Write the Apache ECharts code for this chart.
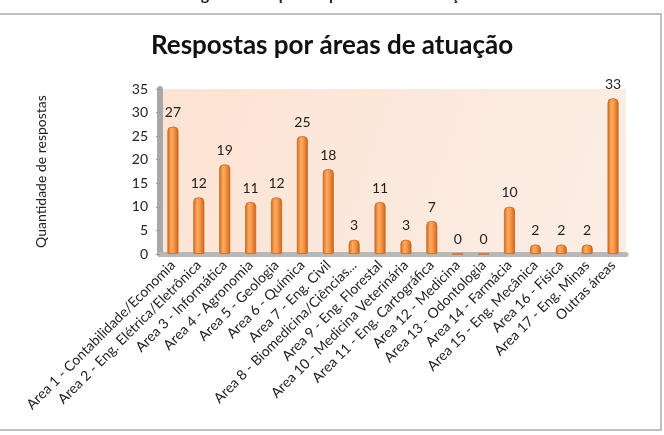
<!DOCTYPE html>
<html><head><meta charset="utf-8">
<script src="https://cdn.jsdelivr.net/npm/echarts@6/dist/echarts.min.js"></script>
<style>html,body{margin:0;padding:0;background:#fff}#c{width:664px;height:435px}</style>
</head><body><div id="c"></div>
<script>
const categories = [
  "Area 1 - Contabilidade/Economia",
  "Area 2 - Eng. Elétrica/Eletrônica",
  "Area 3 - Informática",
  "Area 4 - Agronomia",
  "Area 5 - Geologia",
  "Area 6 - Química",
  "Area 7 - Eng. Civil",
  "Area 8 - Biomedicina/Ciências...",
  "Area 9 - Eng. Florestal",
  "Area 10 - Medicina Veterinária",
  "Area 11 - Eng. Cartográfica",
  "Area 12 - Medicina",
  "Area 13 - Odontologia",
  "Area 14 - Farmácia",
  "Area 15 - Eng. Mecânica",
  "Area 16 - Física",
  "Area 17 - Eng. Minas",
  "Outras áreas"
];
const respostas = [27, 12, 19, 11, 12, 25, 18, 3, 11, 3, 7, 0, 0, 10, 2, 2, 2, 33];
const yTicks = [0, 5, 10, 15, 20, 25, 30, 35];
const chartTitle = "Respostas por áreas de atuação";
const figureCaption = "Figura 6: Respostas por áreas de atuação";
const yAxisTitle = "Quantidade de respostas";

const FONT = "Lato, 'Open Sans', sans-serif";
const chart = echarts.init(document.getElementById('c'), null, {renderer: 'canvas'});
chart.setOption({
  backgroundColor: '#fff',
  animation: false,
  title: {
    text: chartTitle, left: 'center', top: 28,
    textStyle: {fontFamily: FONT, fontSize: 26, fontWeight: 'bold', color: '#111'}
  },
  graphic: [
    {type: 'rect', shape: {x: -2, y: 14, width: 663, height: 416},
     style: {fill: 'none', stroke: '#aaa', lineWidth: 1.5}, silent: true, z: -1},
    {type: 'text', left: 'center', top: -13,
     style: {text: figureCaption, font: "bold 16px " + FONT, fill: '#222'}}
  ],
  grid: {
    left: 160, right: 38, top: 89, bottom: 181,
    show: true, borderWidth: 0,
    backgroundColor: new echarts.graphic.LinearGradient(0, 0, 1, 1, [
      {offset: 0, color: '#fde3d3'}, {offset: 1, color: '#fbeee6'}
    ])
  },
  xAxis: {
    type: 'category', data: categories,
    axisLine: {lineStyle: {color: '#b8b8b8', width: 5}},
    axisTick: {show: false},
    axisLabel: {interval: 0, rotate: 45, fontFamily: FONT, fontSize: 14, color: '#222', margin: 9}
  },
  yAxis: {
    type: 'value', min: 0, max: 35, interval: 5,
    name: yAxisTitle, nameLocation: 'middle', nameGap: 112,
    nameTextStyle: {fontFamily: FONT, fontSize: 14, color: '#222'},
    axisLine: {show: true, lineStyle: {color: '#a8a8a8', width: 6}},
    axisTick: {show: true, length: 4, lineStyle: {color: '#999', width: 1}},
    splitLine: {show: false},
    axisLabel: {fontFamily: FONT, fontSize: 14, color: '#222', margin: 12,
      formatter: v => yTicks.includes(v) ? String(v) : ''}
  },
  series: [{
    type: 'bar', data: respostas, barWidth: 11,
    itemStyle: {
      borderRadius: [4, 4, 1, 1],
      borderColor: '#c8651c', borderWidth: 0.8,
      color: new echarts.graphic.LinearGradient(0, 0, 1, 0, [
        {offset: 0, color: '#d2691c'},
        {offset: 0.35, color: '#fbab62'},
        {offset: 0.6, color: '#f79646'},
        {offset: 1, color: '#c9621a'}
      ])
    },
    label: {show: true, position: 'top', distance: 7, fontFamily: FONT, fontSize: 14, color: '#222'}
  }]
});
</script></body></html>
